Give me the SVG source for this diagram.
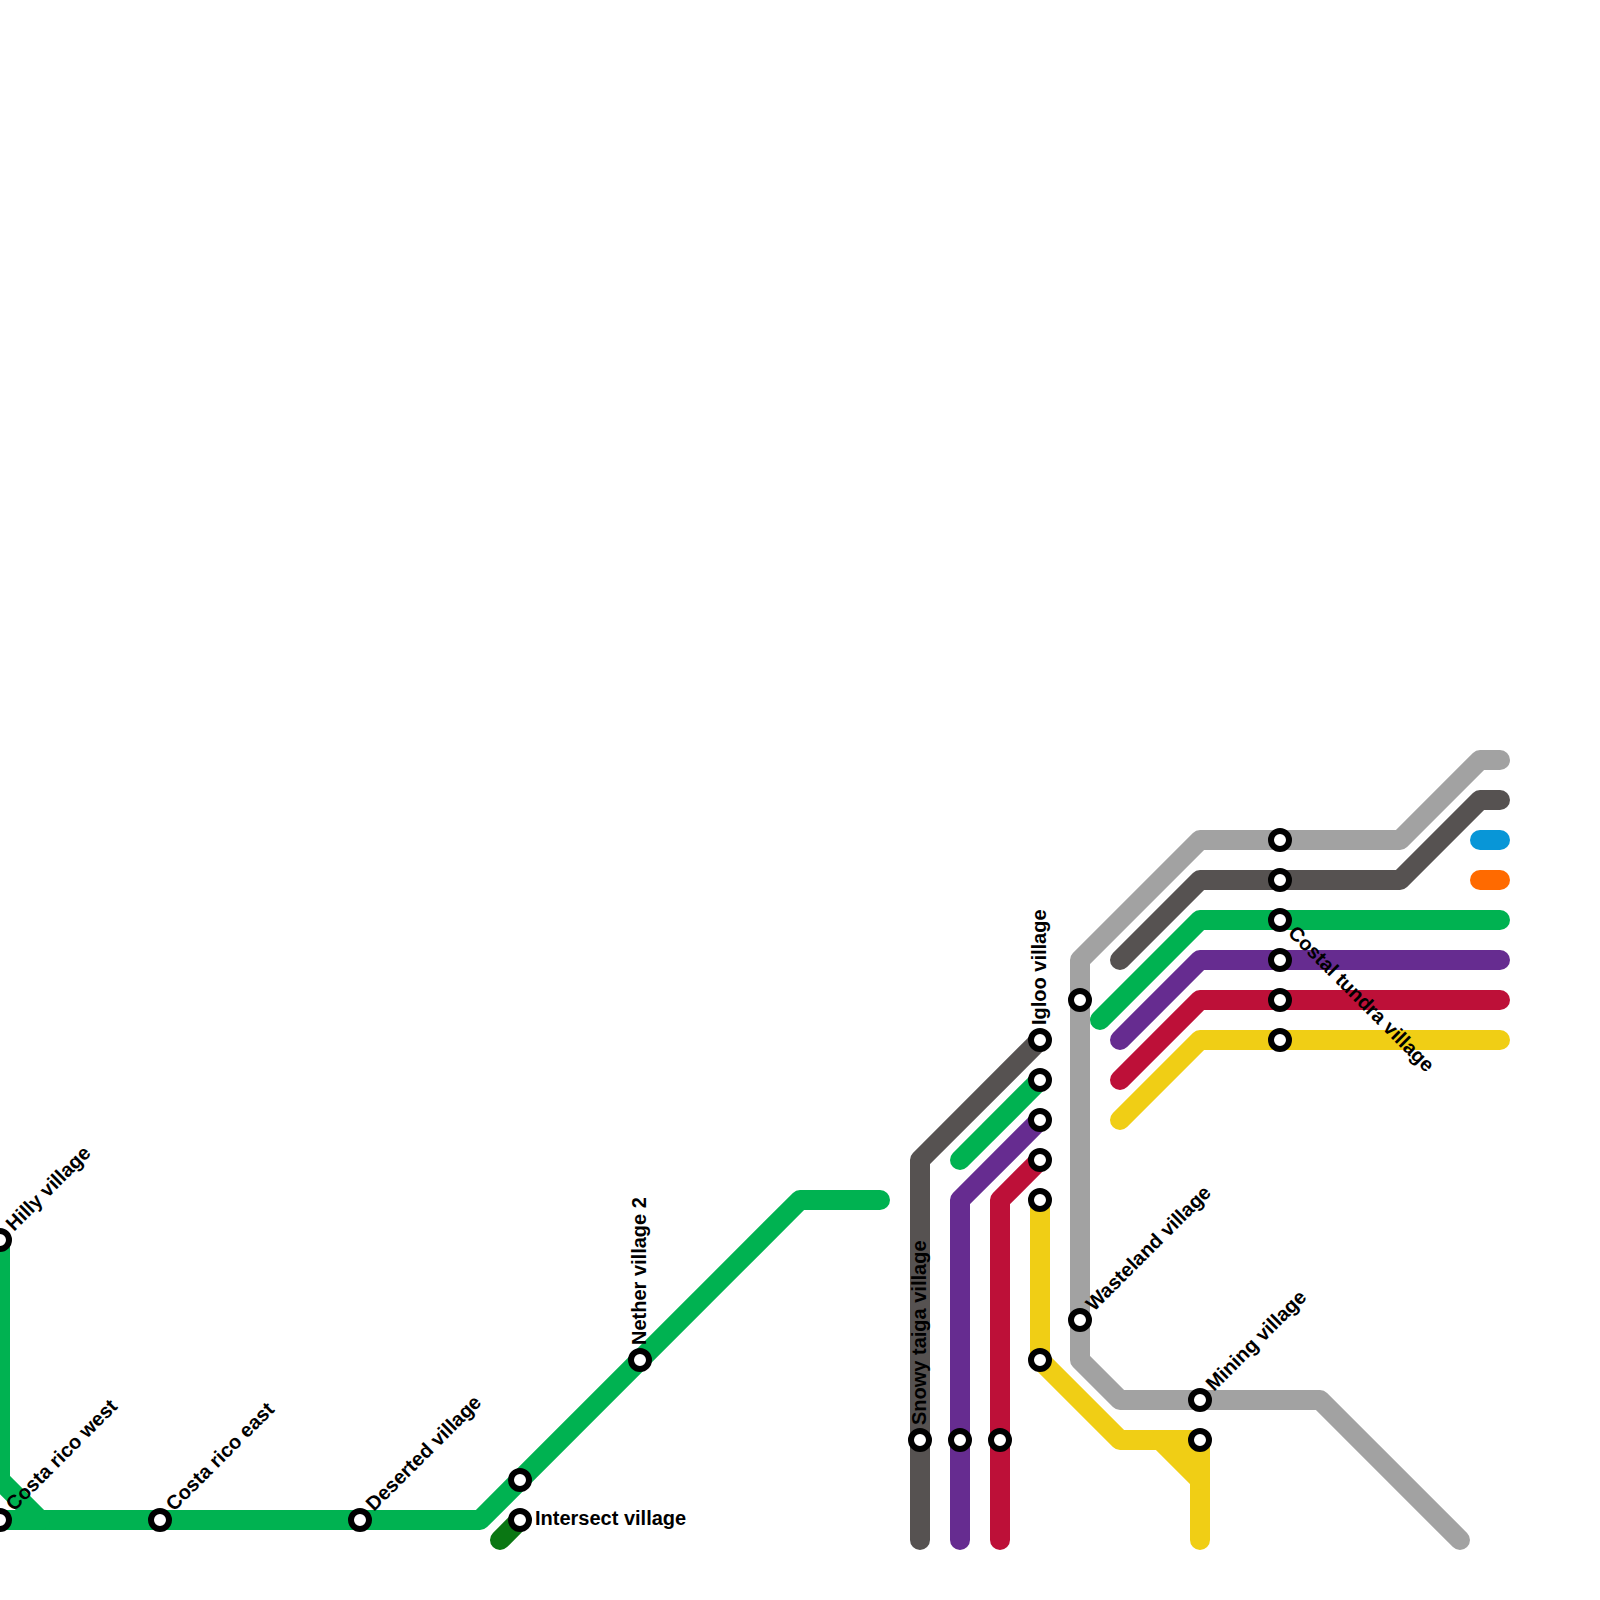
<svg xmlns="http://www.w3.org/2000/svg" width="1600" height="1600" viewBox="0 0 1600 1600">
<style>
.l{fill:none;stroke-width:20;stroke-linecap:round;stroke-linejoin:round}
.st{fill:#fff;stroke:#000;stroke-width:6}
.t{font-family:"Liberation Sans",Arial,sans-serif;font-weight:700;font-size:20px;fill:#000}
.g{stroke:#00b251}.dg{stroke:#0a7713}.k{stroke:#565251}.a{stroke:#a2a2a2}.p{stroke:#662c90}.r{stroke:#bd1038}.y{stroke:#f0ce15}.b{stroke:#0896d7}.o{stroke:#ff6a00}
</style>
<rect width="1600" height="1600" fill="#fff"/>
<g id="connectors">
<path class="l g" d="M0 1240V1480L40 1520H480L800 1200H880"/>
<path class="l g" d="M0 1520H40"/>
<path class="l dg" d="M500 1540L520 1520"/>
<path class="l k" d="M920 1540V1160L1040 1040"/>
<path class="l g" d="M960 1160L1040 1080"/>
<path class="l p" d="M960 1540V1200L1040 1120"/>
<path class="l r" d="M1000 1540V1200L1040 1160"/>
<path class="l y" d="M1040 1200V1360L1120 1440H1200V1540"/>
<path class="l y" style="fill:#f0ce15" d="M1160 1440L1200 1480V1440Z"/>
<path class="l a" d="M1500 760H1480L1400 840H1200L1080 960V1360L1120 1400H1320L1460 1540"/>
<path class="l k" d="M1500 800H1480L1400 880H1200L1120 960"/>
<path class="l b" d="M1480 840H1500"/>
<path class="l o" d="M1480 880H1500"/>
<path class="l g" d="M1500 920H1200L1100 1020"/>
<path class="l p" d="M1500 960H1200L1120 1040"/>
<path class="l r" d="M1500 1000H1200L1120 1080"/>
<path class="l y" d="M1500 1040H1200L1120 1120"/>
</g>
<g id="hilly"><circle class="st" cx="0" cy="1240" r="9"/><text class="t" transform="translate(14 1232) rotate(-45)">Hilly village</text></g>
<g id="costa-west"><circle class="st" cx="0" cy="1520" r="9"/><text class="t" transform="translate(14 1512) rotate(-45)">Costa rico west</text></g>
<g id="costa-east"><circle class="st" cx="160" cy="1520" r="9"/><text class="t" transform="translate(174 1512) rotate(-45)">Costa rico east</text></g>
<g id="deserted"><circle class="st" cx="360" cy="1520" r="9"/><text class="t" transform="translate(374 1512) rotate(-45)">Deserted village</text></g>
<g id="s520-1480"><circle class="st" cx="520" cy="1480" r="9"/></g>
<g id="intersect"><circle class="st" cx="520" cy="1520" r="9"/><text class="t" x="535" y="1525">Intersect village</text></g>
<g id="nether"><circle class="st" cx="640" cy="1360" r="9"/><text class="t" transform="translate(646 1345) rotate(-90)">Nether village 2</text></g>
<g id="snowy"><circle class="st" cx="920" cy="1440" r="9"/><text class="t" transform="translate(926 1425) rotate(-90)">Snowy taiga village</text></g>
<g id="s960-1440"><circle class="st" cx="960" cy="1440" r="9"/></g>
<g id="s1000-1440"><circle class="st" cx="1000" cy="1440" r="9"/></g>
<g id="igloo"><circle class="st" cx="1040" cy="1040" r="9"/><text class="t" transform="translate(1046 1025) rotate(-90)">Igloo village</text></g>
<g id="s1040-1080"><circle class="st" cx="1040" cy="1080" r="9"/></g>
<g id="s1040-1120"><circle class="st" cx="1040" cy="1120" r="9"/></g>
<g id="s1040-1160"><circle class="st" cx="1040" cy="1160" r="9"/></g>
<g id="s1040-1200"><circle class="st" cx="1040" cy="1200" r="9"/></g>
<g id="s1040-1360"><circle class="st" cx="1040" cy="1360" r="9"/></g>
<g id="s1080-1000"><circle class="st" cx="1080" cy="1000" r="9"/></g>
<g id="wasteland"><circle class="st" cx="1080" cy="1320" r="9"/><text class="t" transform="translate(1094 1312) rotate(-45)">Wasteland village</text></g>
<g id="mining"><circle class="st" cx="1200" cy="1400" r="9"/><text class="t" transform="translate(1214 1392) rotate(-45)">Mining village</text></g>
<g id="s1200-1440"><circle class="st" cx="1200" cy="1440" r="9"/></g>
<g id="s1280-840"><circle class="st" cx="1280" cy="840" r="9"/></g>
<g id="s1280-880"><circle class="st" cx="1280" cy="880" r="9"/></g>
<g id="costal"><circle class="st" cx="1280" cy="920" r="9"/><text class="t" transform="translate(1287 934) rotate(45)">Costal tundra village</text></g>
<g id="s1280-960"><circle class="st" cx="1280" cy="960" r="9"/></g>
<g id="s1280-1000"><circle class="st" cx="1280" cy="1000" r="9"/></g>
<g id="s1280-1040"><circle class="st" cx="1280" cy="1040" r="9"/></g>
</svg>
